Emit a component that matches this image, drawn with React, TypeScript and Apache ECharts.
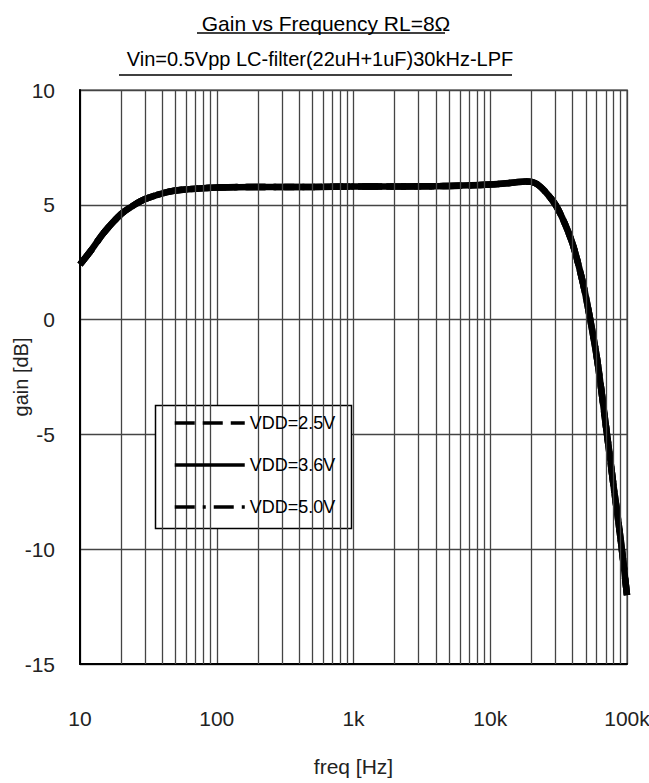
import React, { useEffect, useRef } from "react";
import * as echarts from "echarts";

// ---- data ----
const freqs = [10, 12, 15, 20, 25, 30, 40, 50, 70, 100, 200, 500, 1000, 2000, 5000, 10000, 15000, 18000, 20000, 22000, 25000, 30000, 35000, 40000, 45000, 50000, 60000, 70000, 80000, 90000, 100000];
const gainVdd25 = [2.4, 3.0, 3.8, 4.6, 5.0, 5.25, 5.5, 5.62, 5.7, 5.75, 5.78, 5.78, 5.8, 5.8, 5.82, 5.88, 5.97, 6.02, 6.0, 5.9, 5.6, 5.0, 4.2, 3.3, 2.2, 1.0, -1.6, -4.6, -7.3, -9.6, -12.0];
const gainVdd36 = [2.4, 3.0, 3.8, 4.6, 5.0, 5.25, 5.5, 5.62, 5.7, 5.75, 5.78, 5.78, 5.8, 5.8, 5.82, 5.88, 5.97, 6.02, 6.0, 5.9, 5.6, 5.0, 4.2, 3.3, 2.2, 1.0, -1.6, -4.6, -7.3, -9.6, -12.0];
const gainVdd50 = [2.4, 3.0, 3.8, 4.6, 5.0, 5.25, 5.5, 5.62, 5.7, 5.75, 5.78, 5.78, 5.8, 5.8, 5.82, 5.88, 5.97, 6.02, 6.0, 5.9, 5.6, 5.0, 4.2, 3.3, 2.2, 1.0, -1.6, -4.6, -7.3, -9.6, -12.0];
const seriesNames = ["VDD=2.5V", "VDD=3.6V", "VDD=5.0V"];
const minorGridFreqs = [
  20, 30, 40, 50, 60, 70, 80, 90,
  200, 300, 400, 500, 600, 700, 800, 900,
  2000, 3000, 4000, 5000, 6000, 7000, 8000, 9000,
  20000, 30000, 40000, 50000, 60000, 70000, 80000, 90000,
];
const xTickLabels: Record<number, string> = { 10: "10", 100: "100", 1000: "1k", 10000: "10k", 100000: "100k" };
const yMin = -15;
const yMax = 10;
const yStep = 5;
const titleLine1 = "Gain vs Frequency RL=8Ω";
const titleLine2 = "Vin=0.5Vpp LC-filter(22uH+1uF)30kHz-LPF";
const xName = "freq [Hz]";
const yName = "gain [dB]";

const SANS = '"Liberation Sans", Arial, sans-serif';
const GRID_COLOR = "#444";
const GRID_WIDTH = 1.3;

export default function App() {
  const ref = useRef<HTMLDivElement>(null);
  useEffect(() => {
    if (!ref.current) return;
    const chart = echarts.init(ref.current, null, { renderer: "svg" });
    const dashTypes: any[] = [[20, 8], "solid", [20, 8, 3, 8]];
    const gains = [gainVdd25, gainVdd36, gainVdd50];
    chart.setOption({
      animation: false,
      backgroundColor: "#fff",
      title: [
        { text: titleLine1, left: 321, top: 8, textAlign: "center", textStyle: { fontFamily: SANS, fontSize: 21, fontWeight: "normal", color: "#000" } },
        { text: titleLine2, left: 315, top: 44, textAlign: "center", textStyle: { fontFamily: SANS, fontSize: 20, fontWeight: "normal", color: "#000" } },
      ],
      grid: { left: 80, right: 22, top: 90, bottom: 119, show: true, borderColor: "#999", borderWidth: 2, outerBoundsMode: "none", containLabel: false },
      xAxis: {
        type: "log",
        logBase: 10,
        min: 10,
        max: 100000,
        axisLine: { show: true, onZero: false, lineStyle: { color: "#000", width: 2 } },
        axisTick: { show: false },
        splitLine: { show: true, lineStyle: { color: GRID_COLOR, width: GRID_WIDTH } },
        axisLabel: {
          formatter: (v: number) => xTickLabels[Math.round(v)] ?? "",
          margin: 44,
          fontSize: 21,
          fontFamily: SANS,
          color: "#222",
        },
        name: xName,
        nameLocation: "middle",
        nameGap: 92,
        nameMoveOverlap: false,
        nameTextStyle: { fontSize: 21, fontFamily: SANS, color: "#222" },
      },
      yAxis: {
        type: "value",
        min: yMin,
        max: yMax,
        interval: yStep,
        axisLine: { show: true, onZero: false, lineStyle: { color: "#000", width: 2 } },
        axisTick: { show: false },
        splitLine: { show: true, lineStyle: { color: GRID_COLOR, width: GRID_WIDTH } },
        axisLabel: { margin: 25, fontSize: 21, fontFamily: SANS, color: "#222" },
        name: yName,
        nameLocation: "middle",
        nameRotate: 90,
        nameGap: 49,
        nameMoveOverlap: false,
        nameTextStyle: { fontSize: 20, fontFamily: SANS, color: "#222" },
      },
      legend: {
        orient: "vertical",
        left: 173,
        top: 414,
        padding: 0,
        itemWidth: 70,
        itemHeight: 20,
        itemGap: 24,
        z: 10,
        textStyle: { fontSize: 18, fontFamily: SANS, color: "#000" },
        data: seriesNames.map((n, i) => ({
          name: n,
          itemStyle: { opacity: 0 },
          lineStyle: { width: 3.5, color: "#000", type: dashTypes[i] },
        })),
      },
      graphic: [
        { type: "rect", z: 5, shape: { x: 155.5, y: 405.5, width: 196, height: 123 }, style: { fill: "#fff", stroke: "#000", lineWidth: 1.5 } },
        { type: "line", z: 5, shape: { x1: 197, y1: 33, x2: 445, y2: 33 }, style: { stroke: "#000", lineWidth: 1.5 } },
        { type: "line", z: 5, shape: { x1: 119, y1: 75, x2: 512, y2: 75 }, style: { stroke: "#000", lineWidth: 1.5 } },
      ],
      series: [
        {
          name: "minor-grid",
          type: "line",
          data: [],
          z: 1,
          silent: true,
          markLine: {
            silent: true,
            symbol: "none",
            label: { show: false },
            lineStyle: { color: GRID_COLOR, width: GRID_WIDTH, type: "solid" },
            data: minorGridFreqs.map((f) => ({ xAxis: f })),
          },
        },
        ...seriesNames.map((n, i) => ({
          name: n,
          type: "line",
          z: 3,
          smooth: 0.3,
          symbol: "none",
          showSymbol: false,
          lineStyle: { color: "#000", width: 6.5, type: dashTypes[i] },
          itemStyle: { color: "#000" },
          data: freqs.map((f, k) => [f, gains[i][k]]),
        })),
      ],
    });
    return () => chart.dispose();
  }, []);
  return <div ref={ref} style={{ position: "fixed", left: 0, top: 0, width: 649, height: 783 }} />;
}
